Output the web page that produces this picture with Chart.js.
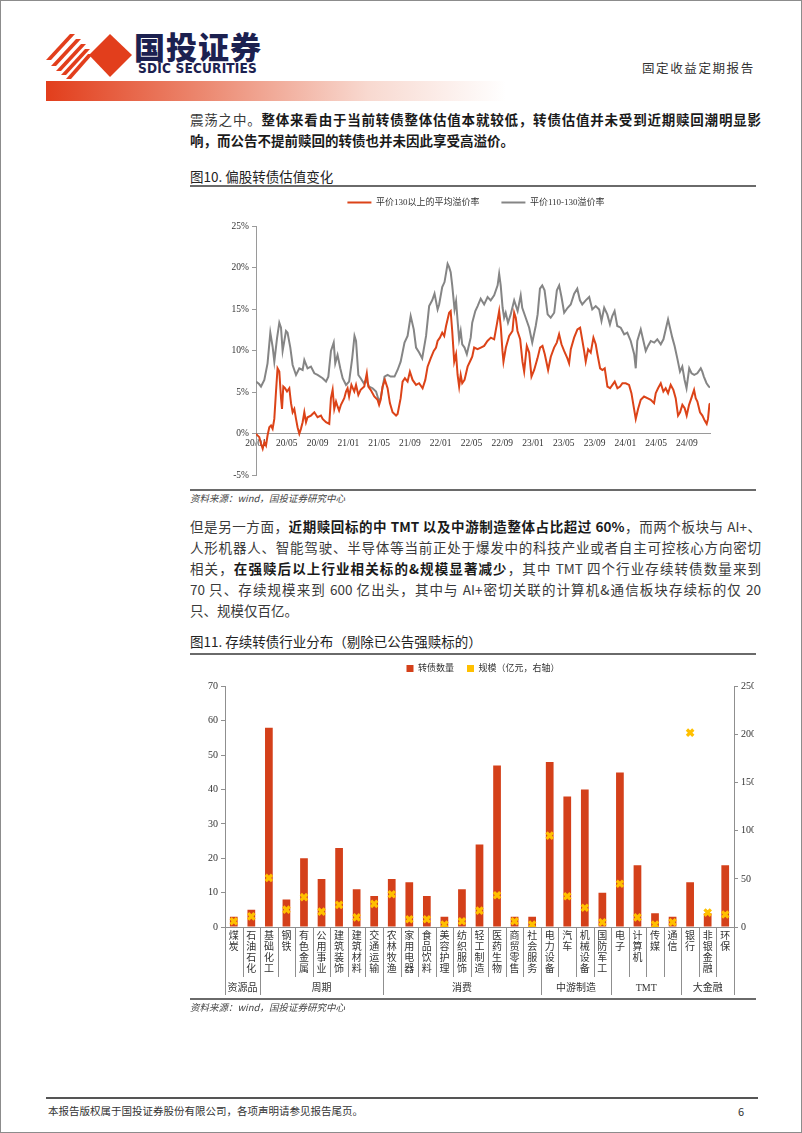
<!DOCTYPE html>
<html lang="zh-CN"><head><meta charset="utf-8">
<script src="https://cdn.jsdelivr.net/npm/chart.js@4.4.1/dist/chart.umd.min.js"></script>
<style>
*{box-sizing:border-box}
html,body{margin:0;padding:0;background:#fff;width:802px;height:1133px;overflow:hidden}
#page{position:relative;width:802px;height:1133px;border:1px solid #8c8c8c;font-family:"Noto Sans CJK SC","Noto Sans",sans-serif;color:#222;overflow:hidden}
.a{position:absolute;white-space:nowrap}
.rule{position:absolute;left:189px;width:566px;height:2px;background:#6a6a6a}
.p{position:absolute;left:189px;width:571px;font-size:13.5px;line-height:20px;height:20px;text-align:justify;text-align-last:justify;white-space:nowrap;color:#3a3a3a}
.p b{font-weight:700;color:#1a1a1a}
.p.last{text-align-last:left}
.ttl{position:absolute;left:189px;font-size:13.5px;line-height:16px;color:#222;white-space:nowrap}
.src{position:absolute;left:189px;font-size:9.5px;line-height:12px;font-style:italic;color:#444;white-space:nowrap}
canvas{position:absolute}
</style>
</head>
<body>
<div id="page">
  <!-- header -->
  <svg class="a" style="left:42px;top:29px" width="92" height="50" viewBox="0 0 92 50">
    <g fill="#E23E1C">
      <polygon points="3,30 8,30 32,4 27,4"/>
      <polygon points="8,36 13,36 38,9 33,9"/>
      <polygon points="13,41 18,41 43,14 38,14"/>
      <polygon points="18,45 23,45 47,19 42,19"/>
      <polygon points="23,49 28,49 50,24 45,24"/>
      <polygon points="46,25 67,4 89,25 67,47"/>
    </g>
  </svg>
  <div class="a" style="left:133px;top:27px;font-size:31px;line-height:36px;font-weight:900;color:#1c2150;letter-spacing:1px">国投证券</div>
  <div class="a" style="left:137px;top:60px;font-size:13.5px;line-height:14px;font-weight:700;color:#1c2150;font-family:'DejaVu Sans Condensed','Liberation Sans',sans-serif;letter-spacing:0.2px">SDIC SECURITIES</div>
  <div class="a" style="left:641px;top:59px;font-size:12.5px;line-height:16px;color:#333;letter-spacing:1.6px">固定收益定期报告</div>
  <div class="a" style="left:45px;top:80px;width:460px;height:20px;background:linear-gradient(to right,#E23E1C 0%,#ec8a72 35%,#f8d9d0 70%,#ffffff 100%)"></div>

  <!-- paragraph 1 -->
  <div class="p" style="top:108px">震荡之中。<b>整体来看由于当前转债整体估值本就较低，转债估值并未受到近期赎回潮明显影</b></div>
  <div class="p last" style="top:129px"><b>响，而公告不提前赎回的转债也并未因此享受高溢价。</b></div>

  <div class="ttl" style="top:167px">图10. 偏股转债估值变化</div>
  <div class="rule" style="top:184px"></div>
  <canvas id="c1" width="570" height="308" style="left:190px;top:175px"></canvas>
  <div class="rule" style="top:488px"></div>
  <div class="src" style="top:491px">资料来源：wind，国投证券研究中心</div>

  <!-- paragraph 2 -->
  <div class="p" style="top:515px">但是另一方面，<b>近期赎回标的中 TMT 以及中游制造整体占比超过 60%</b>，而两个板块与 AI+、</div>
  <div class="p" style="top:536px">人形机器人、智能驾驶、半导体等当前正处于爆发中的科技产业或者自主可控核心方向密切</div>
  <div class="p" style="top:557px">相关，<b>在强赎后以上行业相关标的&amp;规模显著减少</b>，其中 TMT 四个行业存续转债数量来到</div>
  <div class="p" style="top:578px">70 只、存续规模来到 600 亿出头，其中与 AI+密切关联的计算机&amp;通信板块存续标的仅 20</div>
  <div class="p last" style="top:599px">只、规模仅百亿。</div>

  <div class="ttl" style="top:632px">图11. 存续转债行业分布（剔除已公告强赎标的）</div>
  <div class="rule" style="top:652px"></div>
  <div class="a" style="left:190px;top:650px;width:563px;height:348px;overflow:hidden">
    <canvas id="c2" width="584" height="348" style="left:0;top:0"></canvas>
  </div>
  <div class="rule" style="top:997px"></div>
  <div class="src" style="top:1000px">资料来源：wind，国投证券研究中心</div>

  <!-- footer -->
  <div class="a" style="left:45px;top:1096px;width:712px;height:2px;background:#555"></div>
  <div class="a" style="left:47px;top:1103px;font-size:10.5px;line-height:14px;color:#333">本报告版权属于国投证券股份有限公司，各项声明请参见报告尾页。</div>
  <div class="a" style="left:737px;top:1103px;font-size:11px;line-height:14px;color:#333">6</div>
</div>

<script>
// ---------------- Chart 1 data (months since 2020-01, premium %) ----------------
const xTickLabels = ['20/01','20/05','20/09','21/01','21/05','21/09','22/01','22/05','22/09','23/01','23/05','23/09','24/01','24/05','24/09'];

const redMonths = [0,0.43,0.65,0.87,1.08,1.3,1.5,1.73,1.95,2.16,2.38,2.6,2.8,3.03,3.25,3.38,3.55,3.77,4.03,4.33,4.55,4.76,4.98,5.2,5.4,5.63,5.84,6.06,6.28,6.5,6.7,7.14,7.58,8.0,8.44,8.66,9.1,9.52,9.74,9.96,10.17,10.4,10.6,10.8,11.04,11.47,11.7,11.9,12.1,12.4,12.77,13.0,13.3,13.6,14.07,14.4,14.6,14.9,15.37,15.8,16.0,16.2,16.45,16.75,17.1,17.4,17.75,18.2,18.4,18.8,19.05,19.35,19.7,20.0,20.35,20.8,21.2,21.65,22.0,22.3,22.7,23.1,23.4,23.6,23.9,24.2,24.46,24.7,25.1,25.3,25.5,25.76,26.0,26.2,26.4,26.6,26.8,27.1,27.5,27.9,28.1,28.35,28.79,29.22,29.65,30.08,30.52,30.95,31.3,31.6,31.82,32.03,32.16,32.47,32.9,33.33,33.55,33.76,33.98,34.33,34.63,34.85,35.19,35.5,35.8,36.15,36.58,36.92,37.23,37.53,37.96,38.31,38.74,39.09,39.39,39.7,40.04,40.47,40.69,40.91,41.34,41.77,42.12,42.42,42.64,42.85,43.16,43.5,43.85,44.15,44.37,44.72,45.02,45.32,45.67,46.02,46.32,46.62,46.97,47.31,47.62,48.05,48.48,48.79,49.13,49.35,49.65,50.0,50.43,50.86,51.3,51.73,51.95,52.25,52.6,52.94,53.24,53.55,53.89,54.24,54.54,54.85,55.11,55.41,55.71,55.97,56.28,56.58,56.93,57.14,57.36,57.7,58.01,58.31,58.57,58.74,58.92,59.0];
const redValues = [0,-0.4,-1.2,-1.8,-1.0,-1.4,-0.2,0.8,1.0,0.6,1.8,5.1,7.9,7.5,4.3,3.0,5.7,5.5,5.1,5.5,3.7,2.6,3.0,1.8,0.8,0.0,0.6,1.4,2.6,1.4,2.0,2.2,2.6,2.0,2.2,1.8,1.4,1.2,4.3,5.3,3.0,3.9,3.3,2.8,3.5,4.3,5.1,5.5,4.5,5.9,5.1,5.9,4.7,5.3,5.7,7.3,5.7,5.3,4.5,4.1,3.5,4.1,5.7,6.5,5.5,3.7,2.6,2.2,2.4,4.3,6.3,6.7,6.3,7.5,6.5,5.9,6.1,5.5,6.5,8.1,9.1,10.0,10.4,11.2,11.6,12.2,11.8,13.0,14.6,14.8,12.4,8.7,9.6,7.1,5.7,7.1,6.1,6.5,8.1,8.9,9.3,10.4,10.2,10.4,10.6,11.2,11.6,11.4,13.2,14.8,12.8,10.0,8.7,10.4,11.8,12.4,14.6,14.0,12.4,11.4,8.7,7.5,10.6,9.8,6.9,7.7,9.1,10.4,10.6,9.6,7.7,9.3,10.4,11.0,12.0,10.8,10.0,9.1,8.5,10.2,11.6,12.6,12.8,11.2,10.0,8.7,10.2,9.8,11.6,10.8,9.6,7.9,7.7,7.9,5.7,5.5,5.9,6.3,5.5,5.7,6.1,6.1,5.9,4.9,3.0,1.8,3.0,4.1,4.5,4.3,4.1,3.7,4.9,5.5,6.1,5.1,5.5,4.9,5.9,5.3,4.3,2.2,2.6,3.5,3.1,2.2,3.5,4.3,5.3,4.3,3.9,2.6,2.2,1.6,1.2,1.8,3.5,3.7];

const greyMonths = [0,0.4,0.65,1.08,1.5,1.86,2.16,2.38,2.73,3.03,3.25,3.46,3.9,4.1,4.46,4.76,5.2,5.63,6.06,6.28,6.7,7.14,7.58,8.0,8.66,9.1,9.4,9.74,10.1,10.3,10.6,10.95,11.26,11.7,12.1,12.5,12.8,13.0,13.3,13.6,14.0,14.3,14.7,15.15,15.6,16.0,16.2,16.7,17.1,17.5,18.0,18.4,18.8,19.3,19.7,20.1,20.5,20.8,21.2,21.6,22.1,22.5,22.9,23.2,23.6,23.8,24.2,24.5,24.9,25.1,25.3,25.5,25.8,26.0,26.2,26.4,26.6,26.8,27.1,27.4,27.7,27.9,28.1,28.5,28.8,29.2,29.65,30.1,30.5,30.95,31.4,31.6,31.8,32.05,32.25,32.45,32.75,33.1,33.55,34.0,34.4,34.6,35.05,35.5,35.9,36.35,36.6,36.9,37.2,37.5,37.9,38.3,38.75,39.1,39.4,39.7,40.05,40.5,40.9,41.35,41.75,42.1,42.4,42.85,43.3,43.7,44.15,44.6,44.9,45.25,45.65,46.0,46.3,46.6,46.95,47.4,47.85,48.25,48.7,49.15,49.35,49.55,50.0,50.35,50.65,50.95,51.3,51.75,52.15,52.6,52.95,53.25,53.55,53.8,54.1,54.4,54.75,55.1,55.4,55.7,55.95,56.3,56.6,56.95,57.35,57.8,58.0,58.2,58.55,58.85,59.0];
const greyValues = [6.3,6.0,5.7,6.5,8.5,12.2,10.5,8.7,11.5,13.4,12.8,10.0,12.4,12.2,10.4,8.3,7.1,7.9,7.7,8.9,7.9,8.1,7.3,7.1,6.7,6.3,6.9,10.0,11.0,8.5,9.5,7.9,6.7,5.9,6.3,9.1,11.8,11.2,7.1,6.7,6.1,6.5,5.7,5.5,5.1,3.9,4.3,6.9,7.1,6.9,6.9,7.7,8.7,11.0,11.8,14.2,12.6,10.4,9.8,9.1,11.8,15.4,16.1,16.9,15.0,15.6,17.7,18.3,20.5,20.1,19.5,17.9,15.0,16.0,13.6,11.4,12.4,10.8,10.4,9.6,10.8,11.6,13.4,14.8,15.4,16.3,15.6,16.5,16.1,16.7,17.9,19.3,17.9,15.2,14.0,14.6,13.4,14.4,16.1,14.8,16.7,15.2,14.0,12.8,11.0,13.0,14.4,17.5,17.9,17.3,14.4,14.0,14.6,17.3,17.9,16.5,14.6,15.2,15.6,16.9,17.5,16.1,15.6,16.1,16.5,15.0,15.4,15.0,13.6,15.2,14.4,13.2,14.2,14.8,13.0,12.8,12.0,12.2,11.2,9.6,7.9,11.2,12.6,11.2,10.0,10.6,11.2,11.0,11.4,10.8,11.4,12.6,13.8,12.8,11.6,10.6,9.1,7.5,8.1,6.5,5.5,7.9,7.3,7.1,7.3,7.9,7.5,6.9,6.1,5.7,5.6];

// ---------------- Chart 2 data ----------------
const industries = ['煤炭','石油石化','基础化工','钢铁','有色金属','公用事业','建筑装饰','建筑材料','交通运输','农林牧渔','家用电器','食品饮料','美容护理','纺织服饰','轻工制造','医药生物','商贸零售','社会服务','电力设备','汽车','机械设备','国防军工','电子','计算机','传媒','通信','银行','非银金融','环保'];
const bondCounts = [3,5,58,8,20,14,23,11,9,14,13,9,3,11,24,47,3,3,48,38,40,10,45,18,4,3,13,4,18];
const bondScale = [6,11,51,18,31,16,23,10,24,34,8,8,2.5,6,17,33,6,2.5,95,32,20,5,45,10,2.5,5,202,15,13];
const groupNames = ['资源品','周期','消费','中游制造','TMT','大金融'];
const groupSizes = [2,7,9,4,4,3];

// ---------------- shared ----------------
const FAMILY = "'Liberation Serif','Noto Sans CJK SC',serif";
Chart.defaults.font.family = FAMILY;
Chart.defaults.color = '#333';

const legendAdjust = {
  id: 'legendAdjust',
  beforeInit(chart, args, opts) {
    const lg = chart.legend;
    if (!lg) return;
    const orig = lg.fit;
    lg.fit = function () { orig.call(this); this.height += (opts.extra || 0); };
  }
};

// ---------------- Chart 1 ----------------
new Chart(document.getElementById('c1'), {
  type: 'line',
  data: {
    datasets: [
      { label: '平价130以上的平均溢价率', data: redMonths.map((m, i) => ({ x: m, y: redValues[i] })),
        borderColor: '#DC4318', backgroundColor: '#DC4318', borderWidth: 2, pointRadius: 0, tension: 0 },
      { label: '平价110-130溢价率', data: greyMonths.map((m, i) => ({ x: m, y: greyValues[i] })),
        borderColor: '#858585', backgroundColor: '#858585', borderWidth: 2, pointRadius: 0, tension: 0 }
    ]
  },
  options: {
    responsive: false, animation: false, devicePixelRatio: 1,
    layout: { padding: 0 },
    scales: {
      x: {
        type: 'linear', min: 0, max: 59, position: { y: 0 },
        grid: { display: true, drawOnChartArea: false, drawTicks: false },
        border: { display: true, color: '#9a9a9a', width: 1 },
        ticks: { stepSize: 4, autoSkip: false, maxRotation: 0, includeBounds: false, padding: 4,
          font: { size: 9.5 }, color: '#333',
          callback: (v) => (v % 4 === 0 && xTickLabels[v / 4]) ? xTickLabels[v / 4] : '' }
      },
      y: {
        min: -5, max: 25,
        grid: { display: true, drawOnChartArea: false, tickLength: 4, color: '#9a9a9a' },
        border: { display: true, color: '#9a9a9a', width: 1 },
        ticks: { stepSize: 5, padding: 3, font: { size: 9.5 }, color: '#333', callback: (v) => v + '%' },
        afterFit(s) { s.width = 65; }
      },
      yPad: {
        position: 'right', display: true, min: -5, max: 25,
        grid: { display: false }, border: { display: false }, ticks: { display: false },
        afterFit(s) { s.width = 51; }
      }
    },
    plugins: {
      legendAdjust: { extra: 9.5 },
      legend: {
        position: 'top',
        labels: { usePointStyle: true, pointStyle: 'line', pointStyleWidth: 24, padding: 22,
          font: { size: 9 }, color: '#333' }
      },
      tooltip: { enabled: false }
    }
  },
  plugins: [legendAdjust]
});

// ---------------- Chart 2 ----------------
const groupPlugin = {
  id: 'groupRow',
  afterDraw(chart) {
    const x = chart.scales.x;
    const ctx = chart.ctx;
    const c0 = x.getPixelForValue(0);
    const step = x.getPixelForValue(1) - c0;
    const top = chart.chartArea.bottom;
    const bounds = new Set([0]);
    let acc = 0;
    groupSizes.forEach(n => { acc += n; bounds.add(acc); });
    ctx.save();
    ctx.strokeStyle = '#8f8f8f';
    ctx.lineWidth = 1;
    for (let k = 0; k <= industries.length; k++) {
      const px = Math.round(c0 + (k - 0.5) * step) + 0.5;
      ctx.beginPath();
      ctx.moveTo(px, top);
      ctx.lineTo(px, top + (bounds.has(k) ? 68 : 50));
      ctx.stroke();
    }
    ctx.fillStyle = '#333';
    ctx.font = '10px ' + FAMILY;
    ctx.textAlign = 'center';
    ctx.textBaseline = 'middle';
    let s = 0;
    groupSizes.forEach((n, gi) => {
      const cx = c0 + (s + (n - 1) / 2) * step;
      ctx.fillText(groupNames[gi], cx, top + 61);
      s += n;
    });
    ctx.restore();
  }
};

new Chart(document.getElementById('c2'), {
  data: {
    labels: industries,
    datasets: [
      { type: 'bar', label: '转债数量', data: bondCounts, yAxisID: 'y', backgroundColor: '#D4401A',
        borderWidth: 0, barPercentage: 0.44, categoryPercentage: 1, order: 1 },
      { type: 'line', label: '规模（亿元，右轴）', data: bondScale, yAxisID: 'y1', showLine: false,
        pointStyle: 'crossRot', pointRadius: 4.5, pointBorderWidth: 3.2, borderColor: '#FFC000',
        backgroundColor: '#FFC000', order: 0 }
    ]
  },
  options: {
    responsive: false, animation: false, devicePixelRatio: 1,
    layout: { padding: 0 },
    scales: {
      x: {
        grid: { display: true, drawOnChartArea: false, drawTicks: false },
        border: { display: true, color: '#8f8f8f' },
        ticks: { autoSkip: false, maxRotation: 0, minRotation: 0, padding: 4,
          font: { size: 10, lineHeight: 1.1 }, color: '#333',
          callback: (v, i) => industries[i].split('') },
        afterFit(s) { s.height = 72; }
      },
      y: {
        position: 'left', min: 0, max: 70,
        grid: { display: true, drawOnChartArea: false, tickLength: 4, color: '#8f8f8f' },
        border: { display: true, color: '#8f8f8f' },
        ticks: { stepSize: 10, padding: 3, font: { size: 10 }, color: '#333' },
        afterFit(s) { s.width = 34; }
      },
      y1: {
        position: 'right', min: 0, max: 250,
        grid: { display: true, drawOnChartArea: false, tickLength: 4, color: '#8f8f8f' },
        border: { display: true, color: '#8f8f8f' },
        ticks: { stepSize: 50, padding: 3, font: { size: 10 }, color: '#333' },
        afterFit(s) { s.width = 41; }
      }
    },
    plugins: {
      legendAdjust: { extra: 3.5 },
      legend: {
        position: 'top',
        labels: {
          boxWidth: 7, boxHeight: 7, padding: 13, font: { size: 9 }, color: '#333',
          sort: (a, b) => a.datasetIndex - b.datasetIndex,
          generateLabels(chart) {
            const items = Chart.defaults.plugins.legend.labels.generateLabels(chart);
            items.forEach(it => {
              const c = chart.data.datasets[it.datasetIndex].backgroundColor;
              it.fillStyle = c; it.strokeStyle = c; it.lineWidth = 0; it.pointStyle = undefined;
            });
            return items;
          }
        }
      },
      tooltip: { enabled: false }
    }
  },
  plugins: [legendAdjust, groupPlugin]
});
</script>
</body></html>
